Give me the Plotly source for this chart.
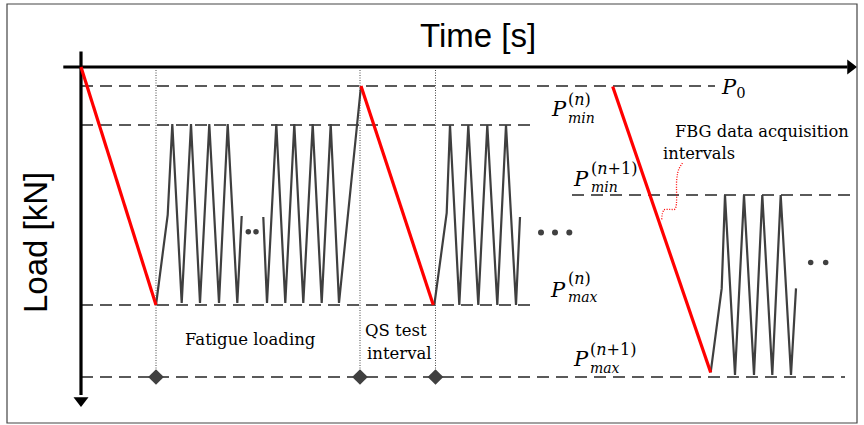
import plotly.graph_objects as go

# ---------------- data (schematic units: time [s], load [kN], load grows downward) ----
P0 = 0.95
PMIN_N = 2.9
PMAX_N = 11.9
PMIN_N1 = 6.4
PMAX_N1 = 15.5

# quasi-static (QS) test ramps (red)
qs1_t, qs1_load = [0.05, 7.55], [0.0, 11.9]
qs2_t, qs2_load = [28.05, 35.28], [0.95, 11.9]
qs3_t, qs3_load = [53.22, 63.02], [0.98, 15.27]

# fatigue loading blocks (grey)
fat1a_t = [7.55, 8.72, 9.18, 10.12, 11.05, 11.95, 12.88, 13.85, 14.72, 15.68, 16.12]
fat1a_load = [11.9, 7.4, 2.85, 11.8, 2.85, 11.8, 2.85, 11.8, 2.85, 11.8, 7.45]
fat1b_t = [18.28, 18.65, 19.58, 20.48, 21.38, 22.28, 23.22, 24.12, 25.02, 25.85, 28.05]
fat1b_load = [7.5, 11.8, 2.85, 11.8, 2.85, 11.8, 2.85, 11.8, 2.85, 11.8, 0.95]
fat2_t = [35.38, 36.62, 36.95, 37.88, 38.78, 39.78, 40.68, 41.68, 42.55, 43.55, 43.95]
fat2_load = [11.9, 7.3, 2.9, 11.9, 2.9, 11.9, 2.9, 11.9, 2.9, 11.9, 7.5]
fat3_t = [63.02, 64.12, 64.45, 65.45, 66.35, 67.35, 68.18, 69.18, 70.02, 71.05, 71.55]
fat3_load = [15.27, 11.07, 6.4, 15.4, 6.4, 15.4, 6.4, 15.4, 6.4, 15.4, 11.07]

# ellipsis dots
dots1_t, dots1_load = [16.78, 17.55], [8.24, 8.24]
dots2_t, dots2_load = [46.05, 47.45, 48.88], [8.27, 8.27, 8.27]
dots3_t, dots3_load = [73.02, 74.52], [9.77, 9.77]

# reference load levels (dashed): (t_start, t_end, level)
level_lines = [
    (0.05, 63.45, P0),
    (0.05, 45.45, PMIN_N),
    (0.05, 45.45, PMAX_N),
    (49.15, 77.45, PMIN_N1),
    (0.05, 76.45, PMAX_N1),
]

# QS interval markers (dotted verticals + diamonds)
marker_t = [7.55, 27.95, 35.5]
marker_top = 0.15

# FBG annotation leader
leader_t = [58.12, 58.35, 59.0, 59.45, 59.62, 59.8, 60.28]
leader_load = [7.62, 7.15, 7.12, 7.1, 5.65, 5.15, 4.74]

# axes extents (line start, line end, arrow-head centre)
time_axis_t = [-1.72, 76.7, 77.0]
load_axis_load = [-0.77, 16.4, 16.68]

GREY = "#3f3f3f"
DASH = "#5a5a5a"

fig = go.Figure()

def line(x, y, color, width, dash="solid", shape="linear"):
    fig.add_trace(go.Scatter(x=x, y=y, mode="lines",
                             line=dict(color=color, width=width, dash=dash, shape=shape),
                             hoverinfo="skip", showlegend=False))

def markers(x, y, symbol, size, color):
    fig.add_trace(go.Scatter(x=x, y=y, mode="markers",
                             marker=dict(symbol=symbol, size=size, color=color,
                                         line=dict(width=0)),
                             hoverinfo="skip", showlegend=False))

# dashed levels
for t0, t1, lv in level_lines:
    line([t0, t1], [lv, lv], DASH, 2, dash="12px,7px")

# dotted verticals
for t in marker_t:
    line([t, t], [marker_top, PMAX_N1], "#444444", 1, dash="1px,1.5px")

# fatigue blocks
for xs, ys in [(fat1a_t, fat1a_load), (fat1b_t, fat1b_load),
               (fat2_t, fat2_load), (fat3_t, fat3_load)]:
    line(xs, ys, GREY, 2.2)

# axes (drawn before the red ramps so the ramp start sits on top)
line(time_axis_t[:2], [0, 0], "#000000", 3.2)
markers([time_axis_t[2]], [0], "triangle-right", 13, "#000000")
line([0.05, 0.05], load_axis_load[:2], "#000000", 3.2)
markers([0.05], [load_axis_load[2]], "triangle-down", 13, "#000000")

# QS ramps
for xs, ys in [(qs1_t, qs1_load), (qs2_t, qs2_load), (qs3_t, qs3_load)]:
    line(xs, ys, "#ff0000", 3.2)

# leader
line(leader_t, leader_load, "#ff0000", 1.3, dash="1px,1.5px", shape="spline")

# diamonds
markers(marker_t, [PMAX_N1] * len(marker_t), "diamond", 12, "#404040")

# dots
for xs, ys, sz in [(dots1_t, dots1_load, 5.5), (dots2_t, dots2_load, 6), (dots3_t, dots3_load, 5.5)]:
    markers(xs, ys, "circle", sz, "#404040")

SANS = "Liberation Sans, Arial, sans-serif"
SERIF = "DejaVu Serif, serif"

def txt(t, l, s, size, font=SERIF, angle=0, xanchor="center", align="center"):
    fig.add_annotation(x=t, y=l, xref="x", yref="y", text=s, showarrow=False,
                       xanchor=xanchor, yanchor="middle", textangle=angle, align=align,
                       borderpad=0,
                       font=dict(family=font, size=size, color="#000000"))

txt(39.75, -1.6, "Time [s]", 33, font=SANS)
txt(-4.55, 8.8, "Load [kN]", 33, font=SANS, angle=-90)
txt(16.95, 13.6, "Fatigue loading", 16.5)
txt(31.55, 13.15, "QS test", 16.5)
txt(31.85, 14.3, "interval", 16.5)
txt(68.12, 3.2, "FBG data acquisition", 16.3)
txt(61.82, 4.3, "intervals", 16.3)

# P_0
txt(65.3, 1.05, "<i>P</i><sub>0</sub>", 21)

# P labels with stacked super/subscripts:
# (t_P, load_P, superscript, subscript, t_block_left, load_block_mid)
p_labels = [
    (47.87, 2.11, "(n)", "min", 48.65, 2.06),
    (47.75, 11.15, "(n)", "max", 48.65, 11.0),
    (50.03, 5.6, "(n+1)", "min", 50.9, 5.5),
    (50.05, 14.6, "(n+1)", "max", 50.8, 14.55),
]
for tp, lp, sup, sub, tb, lb in p_labels:
    txt(tp, lp, "<i>P</i>", 21)
    sup_html = sup.replace("n", "<i>n</i>")
    block = "<span style='font-size:16px'>" + sup_html + "</span><br><i>" + sub + "</i>"
    txt(tb, lb, block, 14, xanchor="left", align="left")

# outer frame
fig.add_shape(type="rect", xref="paper", yref="paper",
              x0=7 / 864, x1=857 / 864, y0=1 - 423 / 425, y1=1 - 4 / 425,
              line=dict(color="#444444", width=1.2), fillcolor="rgba(0,0,0,0)")

fig.update_layout(
    width=864, height=425, margin=dict(l=0, r=0, t=0, b=0),
    paper_bgcolor="white", plot_bgcolor="white",
    xaxis=dict(range=[-8.05, 78.35], visible=False, fixedrange=True),
    yaxis=dict(range=[17.9, -3.35], visible=False, fixedrange=True),
)

fig.write_html("out.html", config={"displayModeBar": False},
               post_script="document.body.style.margin='0px';")
